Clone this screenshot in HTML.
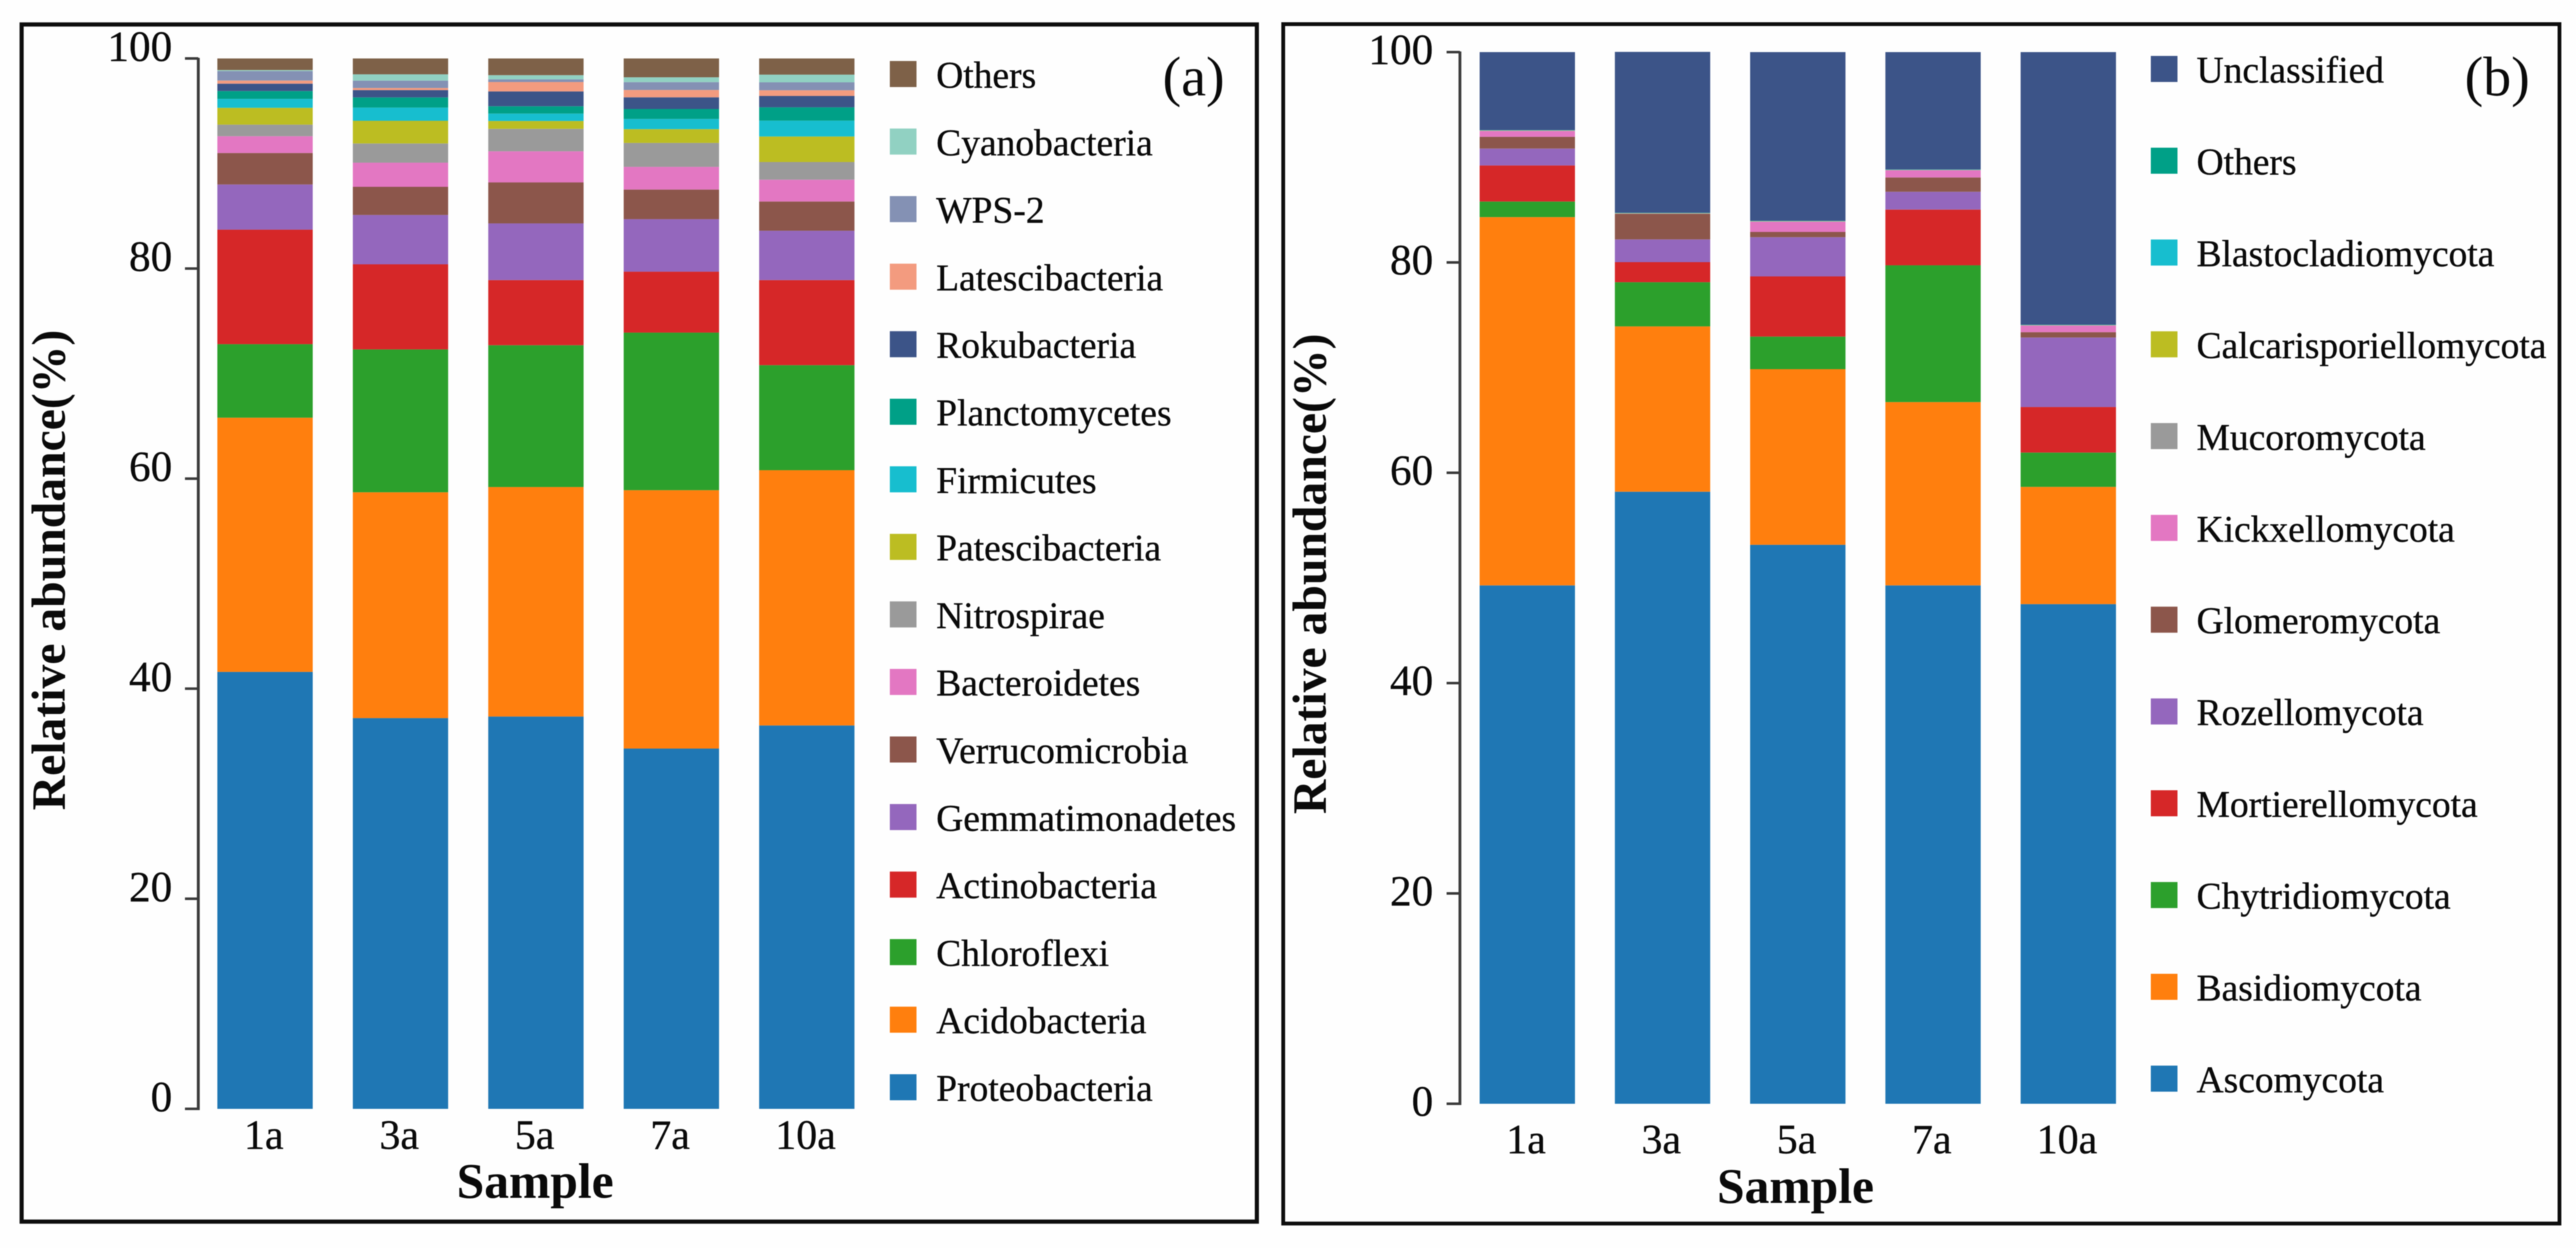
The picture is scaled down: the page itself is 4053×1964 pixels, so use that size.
<!DOCTYPE html>
<html lang="en">
<head>
<meta charset="utf-8">
<title>Relative abundance stacked bars</title>
<style>
  html, body { margin: 0; padding: 0; background: #fefefe; }
  body { width: 4053px; height: 1964px; overflow: hidden; }
  svg { display: block; filter: blur(0.9px); }
  text { font-family: "Liberation Serif", "Times New Roman", serif; fill: #0a0a0a; }
</style>
</head>
<body>
<svg id="figure" xmlns="http://www.w3.org/2000/svg" width="4053" height="1964" viewBox="0 0 4053 1964">
  <rect x="0" y="0" width="4053" height="1964" fill="#fefefe"/>
  <rect x="34" y="38.5" width="1943.5" height="1884" fill="none" stroke="#0d0d0d" stroke-width="6.5"/>
  <rect x="2019" y="38" width="2008" height="1887.5" fill="none" stroke="#0d0d0d" stroke-width="6"/>
  <g id="panel-a"></g>
  <g id="panel-b"></g>
  <text transform="translate(102,897) rotate(-90)" text-anchor="middle" font-size="75" font-weight="bold">Relative abundance(%)</text>
  <text transform="translate(2086,903) rotate(-90)" text-anchor="middle" font-size="75" font-weight="bold">Relative abundance(%)</text>
  <text x="842" y="1885" text-anchor="middle" font-size="78" font-weight="bold">Sample</text>
  <text x="2825" y="1893" text-anchor="middle" font-size="78" font-weight="bold">Sample</text>
  <text x="1878" y="150" text-anchor="middle" font-size="88">(a)</text>
  <text x="3929" y="150" text-anchor="middle" font-size="88">(b)</text>
</svg>
<script>
// Shared axis data
const samples = ['1a', '3a', '5a', '7a', '10a'];
const yTicks = [0, 20, 40, 60, 80, 100];

// Panel (a) series values, one entry per sample, bottom of stack first
const proteobacteria = [41.6, 37.2, 37.35, 34.3, 36.5];
const acidobacteria = [24.2, 21.5, 21.85, 24.6, 24.3];
const chloroflexi = [7.0, 13.6, 13.5, 15.0, 10.0];
const actinobacteria = [10.9, 8.1, 6.2, 5.8, 8.1];
const gemmatimonadetes = [4.3, 4.7, 5.4, 5.0, 4.7];
const verrucomicrobia = [3.0, 2.68, 3.9, 2.82, 2.78];
const bacteroidetes = [1.6, 2.3, 2.96, 2.16, 2.08];
const nitrospirae = [1.1, 1.83, 2.14, 2.28, 1.68];
const patescibacteria = [1.6, 2.16, 0.75, 1.31, 2.43];
const firmicutes = [0.85, 1.25, 0.7, 0.97, 1.51];
const planctomycetes = [0.75, 0.97, 0.7, 0.95, 1.27];
const rokubacteria = [0.7, 0.7, 1.41, 1.11, 1.08];
const latescibacteria = [0.3, 0.2, 0.9, 0.7, 0.54];
const wps2 = [0.9, 0.7, 0.25, 0.75, 0.76];
const cyanobacteria = [0.1, 0.6, 0.4, 0.46, 0.73];
const othersA = [1.1, 1.51, 1.59, 1.79, 1.54];

// Panel (b) series values, one entry per sample, bottom of stack first
const ascomycota = [49.29, 58.2, 53.15, 49.29, 47.51];
const basidiomycota = [35.02, 15.72, 16.7, 17.43, 11.15];
const chytridiomycota = [1.48, 4.2, 3.1, 13.01, 3.26];
const mortierellomycota = [3.43, 1.91, 5.72, 5.3, 4.33];
const rozellomycota = [1.61, 2.16, 3.73, 1.69, 6.61];
const glomeromycota = [1.12, 2.43, 0.5, 1.36, 0.51];
const kickxellomycota = [0.55, 0.02, 0.98, 0.68, 0.63];
const mucoromycota = [0.02, 0.02, 0.02, 0.02, 0.02];
const calcarisporiellomycota = [0.02, 0.02, 0.02, 0.02, 0.02];
const blastocladiomycota = [0.02, 0.02, 0.02, 0.02, 0.02];
const othersB = [0.02, 0.02, 0.02, 0.02, 0.02];
const unclassified = [7.42, 15.3, 16.04, 11.16, 25.92];

const seriesA = [
  ['Proteobacteria', proteobacteria, '#1f77b4'],
  ['Acidobacteria', acidobacteria, '#ff7f0e'],
  ['Chloroflexi', chloroflexi, '#2ca02c'],
  ['Actinobacteria', actinobacteria, '#d62728'],
  ['Gemmatimonadetes', gemmatimonadetes, '#9467bd'],
  ['Verrucomicrobia', verrucomicrobia, '#8c564b'],
  ['Bacteroidetes', bacteroidetes, '#e377c2'],
  ['Nitrospirae', nitrospirae, '#9a9a9a'],
  ['Patescibacteria', patescibacteria, '#bcbd22'],
  ['Firmicutes', firmicutes, '#17becf'],
  ['Planctomycetes', planctomycetes, '#00a087'],
  ['Rokubacteria', rokubacteria, '#3c5488'],
  ['Latescibacteria', latescibacteria, '#f39b7f'],
  ['WPS-2', wps2, '#8491b4'],
  ['Cyanobacteria', cyanobacteria, '#91d1c2'],
  ['Others', othersA, '#7e6148']
];
const seriesB = [
  ['Ascomycota', ascomycota, '#1f77b4'],
  ['Basidiomycota', basidiomycota, '#ff7f0e'],
  ['Chytridiomycota', chytridiomycota, '#2ca02c'],
  ['Mortierellomycota', mortierellomycota, '#d62728'],
  ['Rozellomycota', rozellomycota, '#9467bd'],
  ['Glomeromycota', glomeromycota, '#8c564b'],
  ['Kickxellomycota', kickxellomycota, '#e377c2'],
  ['Mucoromycota', mucoromycota, '#9a9a9a'],
  ['Calcarisporiellomycota', calcarisporiellomycota, '#bcbd22'],
  ['Blastocladiomycota', blastocladiomycota, '#17becf'],
  ['Others', othersB, '#00a087'],
  ['Unclassified', unclassified, '#3c5488']
];

const SVG_NS = 'http://www.w3.org/2000/svg';

function slug(s) {
  return s.toLowerCase().replace(/[^a-z0-9]+/g, '-');
}

function make(parent, tag, attrs, label) {
  const el = document.createElementNS(SVG_NS, tag);
  Object.keys(attrs).forEach(function (k) { el.setAttribute(k, attrs[k]); });
  if (label !== undefined) el.textContent = label;
  parent.appendChild(el);
  return el;
}

function drawChart(group, series, layout) {
  const yScale = function (v) { return layout.y0 + (layout.y100 - layout.y0) * v / 100; };
  const xScale = function (i) { return layout.firstBarX + i * layout.barStep; };

  // y axis
  const axis = make(group, 'line', { x1: layout.axisX, x2: layout.axisX, y1: layout.y100 - 1, y2: layout.y0 + 2, stroke: '#3a3a3a', 'stroke-width': 4.5 });
  
  
  yTicks.forEach(function (t) {
    const ty = yScale(t);
    const tick = make(group, 'line', { x1: layout.axisX - 21, x2: layout.axisX, y1: ty, y2: ty, stroke: '#3a3a3a', 'stroke-width': 4 });
    
    
    const lab = make(group, 'text', { x: layout.tickLabelX, y: ty + layout.tickLabelDy, 'text-anchor': 'end', 'font-size': 68, stroke: '#0a0a0a', 'stroke-width': 0.5 }, String(t));
    
    
  });

  // stacked bars
  samples.forEach(function (sample, i) {
    let cum = 0;
    series.forEach(function (s) {
      const v = s[1][i];
      const top = yScale(cum + v);
      const bottom = yScale(cum);
      const bar = make(group, 'rect', { x: xScale(i), y: top, width: layout.barWidth, height: bottom - top, fill: s[2] });
      
      
      cum += v;
    });
    const xl = make(group, 'text', { x: xScale(i) + layout.barWidth / 2 - 2, y: layout.xLabelY, 'text-anchor': 'middle', 'font-size': 66, stroke: '#0a0a0a', 'stroke-width': 0.5 }, sample);
    
    
  });

  // legend, top row is last series in the stack
  series.slice().reverse().forEach(function (s, row) {
    const ly = layout.legendY + row * layout.legendStep;
    const sw = make(group, 'rect', { x: layout.legendX, y: ly, width: 42, height: 41, fill: s[2] });
    
    
    const tx = make(group, 'text', { x: layout.legendTextX, y: ly + 42, 'font-size': 59, stroke: '#0a0a0a', 'stroke-width': 0.5 }, s[0]);
    
    
  });
}

drawChart(document.getElementById('panel-a'), seriesA, {
  y0: 1745, y100: 92, axisX: 312, tickLabelX: 271, tickLabelDy: 4,
  firstBarX: 342, barStep: 213.1, barWidth: 150, xLabelY: 1808,
  legendX: 1400, legendTextX: 1473, legendY: 96, legendStep: 106.3
});
drawChart(document.getElementById('panel-b'), seriesB, {
  y0: 1737, y100: 82, axisX: 2297, tickLabelX: 2255, tickLabelDy: 19,
  firstBarX: 2328, barStep: 212.8, barWidth: 150, xLabelY: 1815,
  legendX: 3384, legendTextX: 3456, legendY: 88, legendStep: 144.45
});
</script>
</body>
</html>
